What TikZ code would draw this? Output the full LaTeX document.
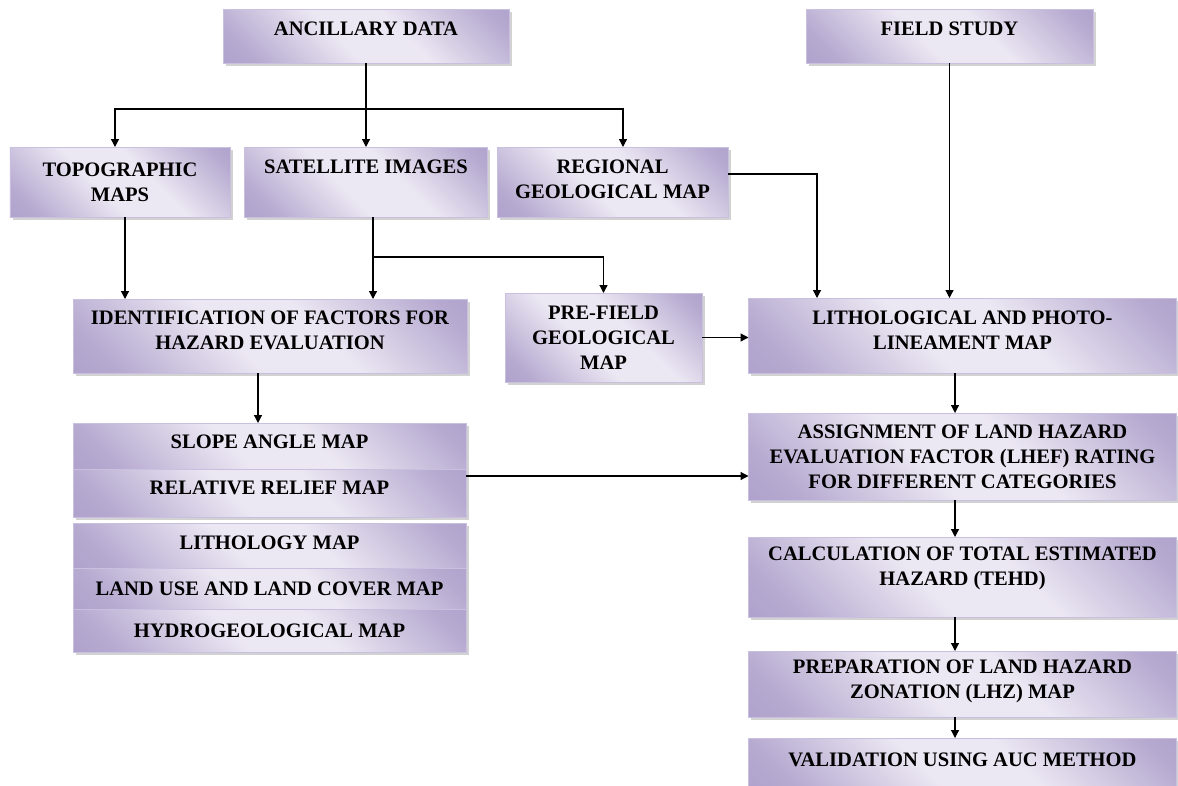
\documentclass[tikz,border=0pt]{standalone}
\usepackage{fontspec}
\setmainfont{Liberation Serif}
\usetikzlibrary{positioning,shadows,arrows.meta}

\definecolor{boxdark}{RGB}{160,144,194}
\definecolor{boxlight}{RGB}{236,232,243}
\definecolor{boxline}{RGB}{200,192,222}
\colorlet{boxmid}{boxdark!70!boxlight}
\pgfdeclarehorizontalshading{boxshade}{100bp}{color(0bp)=(boxdark); color(22bp)=(boxmid); color(44bp)=(boxlight); color(58bp)=(boxlight); color(80bp)=(boxmid); color(100bp)=(boxdark)}
\newcommand{\boxlift}[1]{\rule[-#1]{0pt}{#1}}

\tikzset{
  stage/.style={draw=boxline, line width=0.5pt, outer sep=0pt, inner sep=2pt,
    shading=boxshade, shading angle=45,
    drop shadow={shadow xshift=0.05cm, shadow yshift=-0.05cm, fill=black!35},
    align=center, font=\fontsize{11.7pt}{14.2pt}\selectfont\bfseries},
  flow/.style={-{Triangle[length=1.6mm,width=1.6mm]}, line width=0.7pt},
}

\begin{document}
\begin{tikzpicture}
\fill[white] (0,0) rectangle (23.56,-15.70);
\clip (0,0) rectangle (23.56,-15.70);

\node[stage, minimum width=5.72cm, minimum height=1.08cm] (anc) at (7.32,-0.72) {ANCILLARY DATA\boxlift{0.28cm}};
\node[stage, minimum width=5.74cm, minimum height=1.08cm] (field) at (18.99,-0.72) {FIELD STUDY\boxlift{0.28cm}};

\node[stage, minimum width=4.40cm, minimum height=1.40cm] (topo) at (2.40,-3.64) {TOPOGRAPHIC\\MAPS};
\node[stage, minimum width=4.86cm, minimum height=1.40cm] (sat) at (7.32,-3.64) {SATELLITE IMAGES\boxlift{0.60cm}};
\node[stage, minimum width=4.62cm, minimum height=1.40cm] (reg) at (12.25,-3.64) {REGIONAL\\GEOLOGICAL MAP\boxlift{0.12cm}};

\node[stage, minimum width=7.88cm, minimum height=1.48cm] (ident) at (5.40,-6.72) {IDENTIFICATION OF FACTORS FOR\\HAZARD EVALUATION\boxlift{0.24cm}};
\node[stage, minimum width=3.94cm, minimum height=1.78cm] (pref) at (12.07,-6.75) {PRE-FIELD\\GEOLOGICAL\\MAP};
\node[stage, minimum width=8.56cm, minimum height=1.50cm] (litho) at (19.25,-6.71) {LITHOLOGICAL AND PHOTO-\\LINEAMENT MAP\boxlift{0.20cm}};

\node[stage, minimum width=7.86cm, minimum height=0.92cm] (slope) at (5.39,-8.92) {SLOPE ANGLE MAP\boxlift{0.16cm}};
\node[stage, minimum width=7.86cm, minimum height=0.96cm, below=0pt of slope] (relief) {RELATIVE RELIEF MAP\boxlift{0.20cm}};
\node[stage, minimum width=7.86cm, minimum height=0.90cm, below=0.12cm of relief] (lithology) {LITHOLOGY MAP\boxlift{0.12cm}};
\node[stage, minimum width=7.86cm, minimum height=0.82cm, below=0pt of lithology] (landuse) {LAND USE AND LAND COVER MAP};
\node[stage, minimum width=7.86cm, minimum height=0.86cm, below=0pt of landuse] (hydro) {HYDROGEOLOGICAL MAP};

\node[stage, minimum width=8.56cm, minimum height=1.74cm] (assign) at (19.25,-9.13) {ASSIGNMENT OF LAND HAZARD\\EVALUATION FACTOR (LHEF) RATING\\FOR DIFFERENT CATEGORIES};
\node[stage, minimum width=8.56cm, minimum height=1.60cm] (calc) at (19.25,-11.54) {CALCULATION OF TOTAL ESTIMATED\\HAZARD (TEHD)\boxlift{0.45cm}};
\node[stage, minimum width=8.56cm, minimum height=1.32cm] (prep) at (19.25,-13.68) {PREPARATION OF LAND HAZARD\\ZONATION (LHZ) MAP\boxlift{0.20cm}};
\node[stage, minimum width=8.56cm, minimum height=1.04cm] (valid) at (19.25,-15.28) {VALIDATION USING AUC METHOD\boxlift{0.16cm}};

\coordinate (split) at (7.32,-2.18);
\coordinate (fork) at ([xshift=0.14cm,yshift=-0.80cm]sat.south);
\coordinate (axis) at (19.10,0);

\draw[flow] (anc.south) -- (sat.north);
\draw[flow] (split) -| ([xshift=-0.1cm]topo.north);
\draw[flow] (split) -| ([xshift=0.21cm]reg.north);
\draw[flow] ([xshift=0.1cm]topo.south) -- ([xshift=0.1cm]topo.south |- ident.north);
\draw[flow] ([xshift=0.14cm]sat.south) -- ([xshift=0.14cm]sat.south |- ident.north);
\draw[flow] (fork) -| (pref.north);
\draw[flow] ([yshift=0.16cm]reg.east) -| ([xshift=-2.91cm]litho.north);
\draw[flow] (field.south) -- (field.south |- litho.north);
\draw[flow] (pref.east) -- (pref.east -| litho.west);
\draw[flow] ([xshift=-0.24cm]ident.south) -- ([xshift=-0.24cm]ident.south |- slope.north);
\draw[flow] ([yshift=-0.14cm]relief.north east) -- ([yshift=-0.14cm]relief.north east -| assign.west);
\draw[flow] (litho.south -| axis) -- (assign.north -| axis);
\draw[flow] (assign.south -| axis) -- (calc.north -| axis);
\draw[flow] (calc.south -| axis) -- (prep.north -| axis);
\draw[flow] (prep.south -| axis) -- (valid.north -| axis);
\end{tikzpicture}
\end{document}
